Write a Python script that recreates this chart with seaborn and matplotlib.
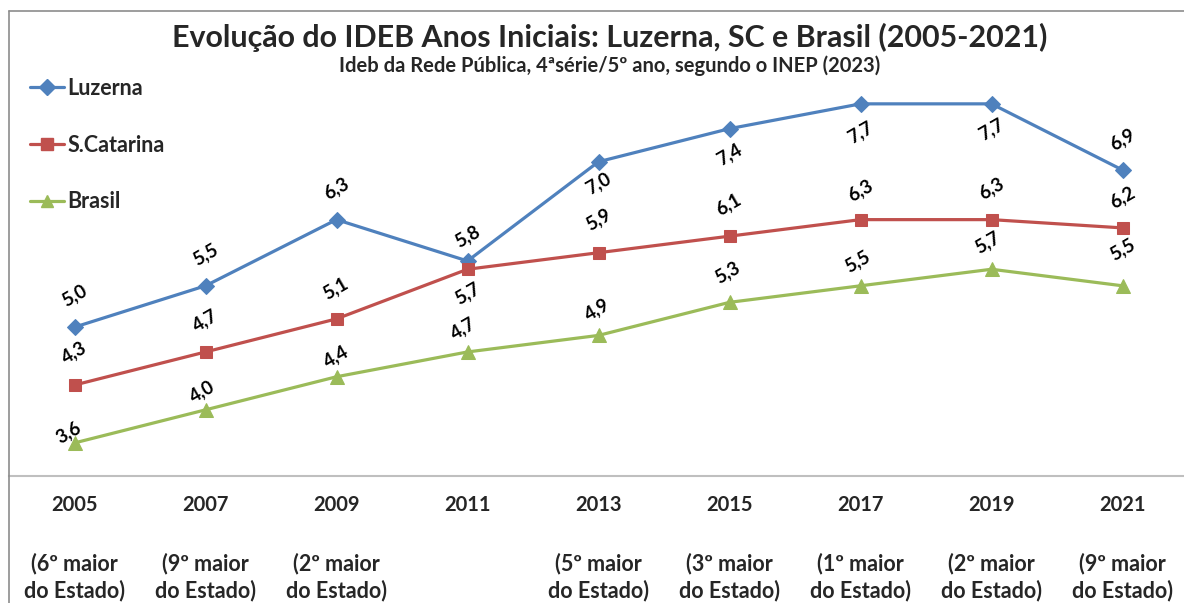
import matplotlib
matplotlib.use("Agg")
import matplotlib.pyplot as plt
import seaborn as sns
import numpy as np
from matplotlib.lines import Line2D

# ---- data ----
years = ["2005", "2007", "2009", "2011", "2013", "2015", "2017", "2019", "2021"]
rank_notes = ["(6º maior\ndo Estado)", "(9º maior\ndo Estado)", "(2º maior\ndo Estado)", "",
              "(5º maior\ndo Estado)", "(3º maior\ndo Estado)", "(1º maior\ndo Estado)",
              "(2º maior\ndo Estado)", "(9º maior\ndo Estado)"]
luzerna = [5.0, 5.5, 6.3, 5.8, 7.0, 7.4, 7.7, 7.7, 6.9]
sc = [4.3, 4.7, 5.1, 5.7, 5.9, 6.1, 6.3, 6.3, 6.2]
brasil = [3.6, 4.0, 4.4, 4.7, 4.9, 5.3, 5.5, 5.7, 5.5]
series_names = ["Luzerna", "S.Catarina", "Brasil"]

title = "Evolução do IDEB Anos Iniciais: Luzerna, SC e Brasil (2005-2021)"
subtitle = "Ideb da Rede Pública, 4ªsérie/5º ano, segundo o INEP (2023)"

# ---- style ----
sns.set_style("white")
plt.rcParams["font.family"] = ["Lato", "DejaVu Sans"]
colors = ["#4F81BD", "#C0504D", "#9BBB59"]
markers = ["D", "s", "^"]
msizes = [8.5, 9, 10]

# label offsets in pixels (dx, dy) relative to each point (layout only)
lab_off = [
    [(0, 32), (0, 31), (0, 31), (0, 25), (0, -22), (0, -26), (0, -29), (0, -26), (0, 31)],
    [(0, 33), (0, 32), (-1, 31), (0, -24), (0, 33), (-1, 32), (0, 29), (0, 31), (0, 31)],
    [(-6, 11), (-3, 18), (0, 20), (-4, 24), (-1, 26), (-2, 30), (-3, 24), (-4, 27), (0, 36)],
]

W, H = 1184, 603
fig = plt.figure(figsize=(W / 100, H / 100), dpi=100)
fig.patch.set_facecolor("white")

ax_left, ax_right_px = 9, 1188
ax_top_px, ax_bot_px = 22, 476
ax_h_px = ax_bot_px - ax_top_px
ax = fig.add_axes([ax_left / W, 1 - ax_bot_px / H, (ax_right_px - ax_left) / W, ax_h_px / H])
ax.set_facecolor("none")

x = np.arange(len(years))
all_series = [luzerna, sc, brasil]
for name, vals, c, m, ms in zip(series_names, all_series, colors, markers, msizes):
    sns.lineplot(x=x, y=vals, ax=ax, color=c, marker=m, markersize=ms,
                 markeredgecolor=c, linewidth=2.3, label=name, legend=False)

ax.set_xlim(-0.5, len(years) - 0.5)
ax.set_ylim(3.2, 3.2 + ax_h_px / 82.7)

px2pt = 72 / 100
for vals, offs in zip(all_series, lab_off):
    for xi, v, (dx, dy) in zip(x, vals, offs):
        ax.annotate(f"{v:.1f}".replace(".", ","), (xi, v), xytext=(dx * px2pt, dy * px2pt),
                    textcoords="offset points", ha="center", va="center", rotation=30,
                    fontsize=13.5, fontweight="bold", color="black")

# spines / ticks
for s in ["left", "right", "top"]:
    ax.spines[s].set_visible(False)
ax.spines["bottom"].set_color("#BFBFBF")
ax.spines["bottom"].set_linewidth(1.5)
ax.set_yticks([])
ax.set_xticks(x)
ax.set_xticklabels(years, fontsize=14.5, fontweight="bold")
ax.tick_params(axis="x", which="major", length=0, pad=14)
ax.set_xticks(np.arange(0.5, len(years) - 1, 1.0), minor=True)
ax.tick_params(axis="x", which="minor", length=7, color="#BFBFBF", width=1.2, direction="out")
ax.set_xlabel("")

# ranking notes under the years
for xi, note in zip(x, rank_notes):
    if note:
        ax.text(xi, (ax_bot_px - 577) / ax_h_px, note, transform=ax.get_xaxis_transform(),
                ha="center", va="center", fontsize=15.5, fontweight="bold",
                linespacing=1.3, clip_on=False)

# legend
handles = [Line2D([0], [0], color=c, marker=m, markersize=ms * 0.9, linewidth=2.3, markeredgecolor=c)
           for c, m, ms in zip(colors, markers, msizes)]
leg = fig.legend(handles, series_names, loc="upper left", bbox_to_anchor=(30 / W, 1 - 78 / H),
                 frameon=False, prop={"size": 15.5, "weight": "bold"}, handlelength=1.6,
                 handletextpad=0.15, labelspacing=1.66, borderpad=0, borderaxespad=0)

# titles
fig.text(610 / W, 1 - 37 / H, title, ha="center", va="center", fontsize=21.9, fontweight="bold")
fig.text(610 / W, 1 - 66 / H, subtitle, ha="center", va="center", fontsize=14.5, fontweight="bold")

# chart frame
fig.add_artist(Line2D([8.5 / W, 8.5 / W], [0, 1 - 11 / H], color="#8C8C8C", linewidth=1.2, transform=fig.transFigure))
fig.add_artist(Line2D([8.5 / W, 1], [1 - 11 / H, 1 - 11 / H], color="#8C8C8C", linewidth=1.2, transform=fig.transFigure))

fig.savefig("out.png", dpi=100)
